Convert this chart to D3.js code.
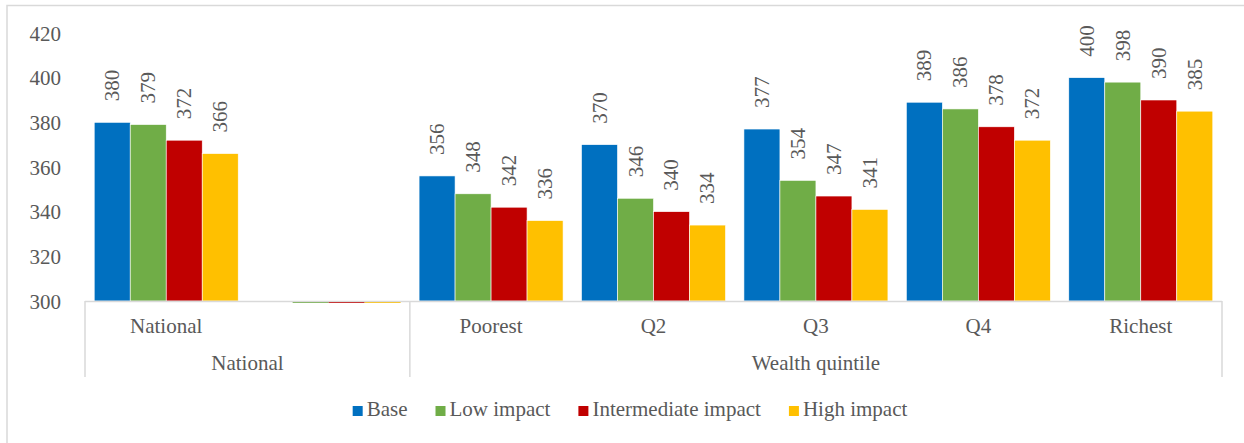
<!DOCTYPE html>
<html>
<head>
<meta charset="utf-8">
<script src="https://d3js.org/d3.v7.min.js"></script>
<style>
body { margin: 0; background: #fff; }
text { font-family: "Liberation Serif", "Times New Roman", serif; fill: #595959; }
</style>
</head>
<body>
<script>
// categories (empty slot after National, as in the source chart)
var categories = ["National", "", "Poorest", "Q2", "Q3", "Q4", "Richest"];
var groups = [
  {label: "National", from: 0, to: 1},
  {label: "Wealth quintile", from: 2, to: 6}
];
var seriesNames = ["Base", "Low impact", "Intermediate impact", "High impact"];
var colors = ["#0070C0", "#70AD47", "#C00000", "#FFC000"];

var base = [380, null, 356, 370, 377, 389, 400];
var lowImpact = [379, 300, 348, 346, 354, 386, 398];
var intermediateImpact = [372, 300, 342, 340, 347, 378, 390];
var highImpact = [366, 300, 336, 334, 341, 372, 385];
var yTicks = [300, 320, 340, 360, 380, 400, 420];

var series = [base, lowImpact, intermediateImpact, highImpact];

var W = 1244, H = 443;
var fs = "21px";
var svg = d3.select("body").append("svg")
  .attr("width", W)
  .attr("height", H);

// outer chart border (only top/left fall inside the picture)
svg.append("rect")
  .attr("x", 7).attr("y", 5.5)
  .attr("width", 1300).attr("height", 500)
  .attr("fill", "none")
  .attr("stroke", "#d9d9d9")
  .attr("stroke-width", 1.5);

var plotL = 85, plotR = 1222, plotT = 33, plotB = 301;

var x = d3.scaleBand()
  .domain(d3.range(categories.length))
  .range([plotL, plotR])
  .paddingInner(0)
  .paddingOuter(0);

var inner = d3.scaleBand()
  .domain(d3.range(seriesNames.length))
  .range([0, x.bandwidth()])
  .paddingOuter(0.256);

var y = d3.scaleLinear()
  .domain([300, 420])
  .range([plotB, plotT]);

// y axis labels
var yAxis = d3.axisLeft(y).tickValues(yTicks).tickSize(0).tickPadding(0);
var yg = svg.append("g")
  .attr("transform", "translate(61,0)")
  .call(yAxis);
yg.select(".domain").remove();
yg.selectAll("text")
  .style("font-family", "Liberation Serif, serif")
  .style("font-size", fs)
  .attr("fill", "#595959")
  .attr("dy", "0.34em");

// bars
series.forEach(function(vals, si) {
  var g = svg.append("g");
  var rows = vals.map(function(v, i) { return {v: v, i: i}; })
    .filter(function(d) { return d.v != null; });
  g.selectAll("rect")
    .data(rows)
    .enter().append("rect")
    .attr("x", function(d) { return x(d.i) + inner(si); })
    .attr("width", inner.bandwidth())
    .attr("y", function(d) { return d.v > 300 ? y(d.v) : y(300) + 0.5; })
    .attr("height", function(d) { return d.v > 300 ? y(300) - y(d.v) : 1.5; })
    .attr("fill", colors[si])
    .attr("stroke", function(d) { return d.v > 300 ? "#fff" : "none"; })
    .attr("stroke-width", 0.6);

  g.selectAll("text")
    .data(rows.filter(function(d) { return d.v > 300; }))
    .enter().append("text")
    .attr("transform", function(d) {
      var cx = x(d.i) + inner(si) + inner.bandwidth() / 2;
      return "translate(" + (cx + 7) + "," + (y(d.v) - 21) + ") rotate(-90)";
    })
    .attr("text-anchor", "start")
    .style("font-size", fs)
    .text(function(d) { return d3.format("d")(d.v); });
});

// category axis
var axisColor = "#d9d9d9";
svg.append("line")
  .attr("x1", plotL).attr("x2", plotR)
  .attr("y1", plotB + 0.5).attr("y2", plotB + 0.5)
  .attr("stroke", axisColor).attr("stroke-width", 1.5);

var dividers = [plotL, x(groups[1].from), plotR];
svg.selectAll(".divider")
  .data(dividers)
  .enter().append("line")
  .attr("x1", function(d) { return d; }).attr("x2", function(d) { return d; })
  .attr("y1", plotB).attr("y2", 377)
  .attr("stroke", axisColor).attr("stroke-width", 1.5);

svg.selectAll(".cat")
  .data(categories)
  .enter().append("text")
  .attr("x", function(d, i) { return x(i) + x.bandwidth() / 2; })
  .attr("y", 333)
  .attr("text-anchor", "middle")
  .style("font-size", fs)
  .text(function(d) { return d; });

svg.selectAll(".grp")
  .data(groups)
  .enter().append("text")
  .attr("x", function(d) { return (x(d.from) + x(d.to) + x.bandwidth()) / 2; })
  .attr("y", 370)
  .attr("text-anchor", "middle")
  .style("font-size", fs)
  .text(function(d) { return d.label; });

// legend
var legend = svg.append("g");
var lx = 0;
seriesNames.forEach(function(name, i) {
  var item = legend.append("g").attr("transform", "translate(" + lx + ",0)");
  item.append("rect")
    .attr("x", 0).attr("y", -10)
    .attr("width", 10).attr("height", 10)
    .attr("fill", colors[i]);
  var t = item.append("text")
    .attr("x", 14).attr("y", 0)
    .style("font-size", fs)
    .text(name);
  lx += 14 + t.node().getComputedTextLength() + 28;
});
var legendW = lx - 28;
legend.attr("transform", "translate(" + (630 - legendW / 2) + ",416)");
</script>
</body>
</html>
